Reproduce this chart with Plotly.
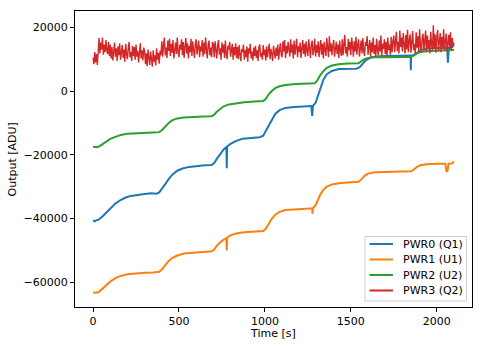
import plotly.graph_objects as go

# ---------------- data ----------------
pwr0_t = [0, 10, 20, 30, 50, 75, 100, 130, 160, 190, 220, 260, 300, 340, 370, 385, 400, 420, 440, 460,
          490, 520, 560, 600, 650, 690, 705, 720, 740, 760, 776, 778, 780, 800, 830, 870, 920, 970, 990,
          1005, 1020, 1040, 1060, 1085, 1120, 1170, 1220, 1270, 1275, 1280, 1295, 1310, 1325, 1340, 1360,
          1390, 1430, 1480, 1530, 1550, 1570, 1590, 1620, 1660, 1720, 1800, 1848, 1849, 1851, 1870, 1890,
          1910, 1950, 2000, 2040, 2060, 2065, 2070, 2090, 2100]
pwr0_v = [-40600, -40900, -40500, -40400, -39600, -38200, -36800, -35300, -34200, -33400, -32900, -32500,
          -32300, -32100, -32200, -31800, -30800, -29200, -27600, -26300, -25000, -24300, -23800, -23500,
          -23300, -23200, -22600, -21300, -19600, -18300, -17600, -24200, -17400, -16600, -15700, -15000,
          -14700, -14500, -14000, -12500, -10800, -8800, -7200, -6000, -5300, -5000, -4800, -4700, -7800,
          -4600, -3700, -1500, 1200, 3500, 5300, 6300, 6900, 7000, 7000, 7400, 8600, 9800, 10600, 10900,
          11000, 11100, 11100, 6500, 11100, 11400, 12300, 12900, 13300, 13400, 13500, 13600, 8900, 13500,
          13800, 14600]

pwr1_t = [0, 20, 35, 50, 75, 100, 130, 160, 200, 250, 300, 350, 385, 400, 420, 440, 460, 490, 530, 580,
          640, 690, 705, 720, 740, 760, 776, 778, 780, 800, 830, 880, 940, 990, 1005, 1020, 1040, 1060,
          1085, 1120, 1180, 1240, 1275, 1277, 1280, 1295, 1310, 1325, 1340, 1360, 1390, 1430, 1480, 1545,
          1560, 1580, 1600, 1640, 1700, 1780, 1850, 1865, 1885, 1905, 1940, 2000, 2050, 2055, 2062, 2068,
          2090, 2100]
pwr1_v = [-63200, -63300, -63000, -62200, -60900, -59800, -58700, -58000, -57500, -57200, -57000, -56900,
          -56700, -56000, -54600, -53300, -52400, -51600, -51000, -50700, -50500, -50300, -49700, -48600,
          -47400, -46600, -46200, -50000, -46000, -45300, -44700, -44300, -44100, -43900, -43200, -41800,
          -40100, -38800, -37900, -37300, -37000, -36900, -36800, -38500, -36700, -35800, -34000, -32200,
          -31000, -30000, -29300, -28900, -28700, -28500, -27800, -26600, -25900, -25500, -25400, -25300,
          -25200, -24700, -23800, -23300, -23000, -22800, -22800, -25000, -25300, -22800, -22700, -22100]

pwr2_t = [0, 20, 35, 50, 75, 100, 130, 160, 200, 250, 300, 350, 385, 400, 420, 440, 460, 490, 530, 580,
          640, 690, 705, 720, 740, 760, 790, 830, 880, 940, 990, 1005, 1020, 1040, 1060, 1085, 1120, 1180,
          1240, 1290, 1305, 1320, 1340, 1360, 1390, 1430, 1480, 1545, 1560, 1580, 1600, 1640, 1700, 1780,
          1850, 1865, 1885, 1905, 1940, 2000, 2060, 2100]
pwr2_v = [-17500, -17600, -17400, -16800, -15800, -15000, -14400, -13800, -13400, -13200, -13100, -13000,
          -12900, -12300, -11200, -10000, -9200, -8600, -8300, -8100, -8000, -7900, -7400, -6500, -5500,
          -4800, -4200, -3800, -3500, -3300, -3100, -2500, -1200, 0, 900, 1500, 1900, 2200, 2300, 2400,
          3300, 4800, 6200, 7300, 8000, 8400, 8600, 8700, 9300, 10000, 10400, 10600, 10600, 10700, 10700,
          11100, 11800, 12200, 12500, 12600, 12700, 12900]

# PWR3 is sampled every 5 s (noisy signal)
pwr3_step = 5
pwr3_v = [
    # 0-25 s
    10500, 8400, 12200, 9000, 11600, 8200,
    # 30-95 s
    12400, 16600, 11800, 15200, 13000, 16800, 11400, 14600, 12200, 16000, 12800, 11600, 15400, 11000,
    # 100-295 s
    14600, 10200, 13800, 9600, 12400, 15200, 10800, 13400, 9400, 14000,
    11200, 15000, 9800, 12800, 14400, 10400, 13000, 9200, 14800, 11600,
    10000, 13600, 15400, 10600, 12200, 9400, 14200, 11000, 13800, 9800,
    14600, 10800, 12600, 9000, 13400, 15000, 10200, 12800, 9600, 13600,
    # 300-395 s
    12600, 8400, 11800, 7800, 13000, 9600, 8200, 12400, 10400, 7600,
    12800, 9200, 11200, 8000, 13400, 9800, 12000, 8600, 12600, 11200,
    # 400-695 s
    15600, 10800, 14400, 16800, 11200, 13600, 10400, 15800, 12600, 16400,
    11000, 14800, 12000, 16000, 10200, 13400, 15200, 11600, 16800, 12400,
    10600, 14600, 13000, 16200, 11200, 15400, 10400, 13800, 16600, 11800,
    15000, 10200, 14200, 12200, 16400, 11000, 15600, 12800, 10400, 14800,
    16200, 11400, 13200, 15800, 10600, 14000, 12400, 16000, 10800, 15200,
    11600, 16800, 12800, 10200, 14600, 15800, 11200, 13600, 10600, 15400,
    # 700-835 s
    14800, 10600, 15600, 12200, 10200, 14400, 16000, 11400, 13400, 9800,
    15200, 12000, 14600, 10400, 15800, 11600, 10000, 14200, 13000, 15400,
    10800, 12600, 14800, 9800, 13800, 11200, 15000, 10400,
    # 840-1095 s
    13800, 10000, 14400, 11400, 9400, 13200, 12200, 14600, 9800, 12800,
    10600, 14000, 9200, 13400, 11800, 14800, 10200, 12400, 9600, 13600,
    11000, 14200, 10400, 12800, 9400, 13800, 14600, 10800, 12000, 9800,
    14400, 11200, 13000, 9600, 14000, 10600, 12600, 14800, 10000, 13200,
    11600, 9400, 14200, 12400, 10200, 13600, 11000, 14600, 9800, 12800,
    15000, 11400,
    # 1100-1445 s
    10600, 15600, 12400, 16000, 10400, 14200, 11800, 15400, 13000, 10800,
    16200, 12000, 14600, 10200, 15800, 11400, 13600, 16400, 10600, 14000,
    12200, 15200, 10400, 13800, 16000, 11600, 14800, 10800, 15600, 12600,
    11000, 16200, 13400, 10400, 14600, 15800, 11200, 13000, 16400, 10800,
    14400, 12000, 15600, 10600, 13600, 16000, 11400, 14800, 10200, 15400,
    12800, 11000, 16600, 13200, 10600, 17200, 12400, 15000, 11200, 14200,
    16000, 10800, 13800, 15400, 11600, 14600, 10400, 15800, 12600, 11000,
    # 1450-1745 s
    16200, 11200, 14800, 17600, 11800, 13800, 10800, 16400, 12800, 15400,
    11200, 16800, 14000, 10800, 15600, 12400, 17000, 11400, 14600, 16200,
    10800, 13400, 15800, 11800, 16600, 12600, 11000, 15400, 14200, 17200,
    11400, 13600, 16000, 10800, 15200, 12200, 16800, 11600, 14400, 10600,
    16400, 13000, 11200, 15800, 12400, 17400, 11000, 14800, 13200, 16200,
    11600, 15400, 10800, 16800, 12800, 14600, 11400, 17000, 12200, 15600,
    # 1750-2100 s
    17400, 12200, 16000, 18600, 12600, 15400, 11800, 19000, 13800, 16800,
    12400, 18200, 14600, 11800, 17600, 13000, 19200, 12200, 15800, 17800,
    12000, 16400, 18800, 12800, 14800, 11800, 18400, 13600, 17200, 12400,
    19400, 14200, 12000, 16600, 18000, 12600, 15200, 19000, 12200, 17400,
    13400, 16000, 11800, 18600, 14400, 12800, 20600, 13200, 17800, 12000,
    16800, 19200, 12600, 15600, 18200, 12200, 17000, 13800, 19400, 12800,
    16200, 18000, 12400, 15800, 17600, 13000, 18400, 12800, 16600, 14200,
    15200,
]
pwr3_t = [i * pwr3_step for i in range(len(pwr3_v))]

names = ["PWR0 (Q1)", "PWR1 (U1)", "PWR2 (U2)", "PWR3 (Q2)"]
colors = ["#1f77b4", "#ff7f0e", "#2ca02c", "#d62728"]

x_ticks = [0, 500, 1000, 1500, 2000]
y_ticks = [-60000, -40000, -20000, 0, 20000]
y_tick_text = ["\u221260000", "\u221240000", "\u221220000", "0", "20000"]
x_title = "Time [s]"
y_title = "Output [ADU]"

# ---------------- figure ----------------
font = "DejaVu Sans"
fs = 11
fig = go.Figure()
series = [(pwr0_t, pwr0_v, 2.0), (pwr1_t, pwr1_v, 2.0), (pwr2_t, pwr2_v, 2.0), (pwr3_t, pwr3_v, 1.4)]
for (t, v, w), n, c in zip(series, names, colors):
    fig.add_trace(go.Scatter(x=t, y=v, mode="lines", name=n,
                             line=dict(color=c, width=w), showlegend=False))

axis_common = dict(showline=True, linecolor="black", linewidth=1, mirror=True,
                   ticks="outside", ticklen=4, tickcolor="black", tickwidth=1,
                   showgrid=False, zeroline=False, automargin=False,
                   tickfont=dict(family=font, size=fs, color="black"))
fig.update_xaxes(range=[-105, 2205], tickvals=x_ticks, **axis_common)
fig.update_yaxes(range=[-67750, 25100], tickvals=y_ticks, ticktext=y_tick_text, **axis_common)

# ---- pixel helpers (plot area) ----
L, R, T, B = 75, 472, 11, 307
def px(x):
    return (x - L) / (R - L)
def py(y):
    return (B - y) / (B - T)

annotations = [
    dict(xref="paper", yref="paper", x=px(273), y=py(333), text=x_title, showarrow=False,
         xanchor="center", yanchor="middle", font=dict(family=font, size=fs, color="black")),
    dict(xref="paper", yref="paper", x=px(12), y=py(159.5), text=y_title, showarrow=False,
         textangle=-90, xanchor="center", yanchor="middle", font=dict(family=font, size=fs, color="black")),
]

# ---- legend box drawn in the matplotlib style ----
shapes = [dict(type="rect", xref="paper", yref="paper",
               x0=px(365), x1=px(466.5), y0=py(301), y1=py(236.5),
               line=dict(color="#cccccc", width=1), fillcolor="rgba(255,255,255,0.8)", layer="above")]
row_y = [244, 259.5, 275, 290.5]
for n, c, ry in zip(names, colors, row_y):
    shapes.append(dict(type="line", xref="paper", yref="paper",
                       x0=px(369.5), x1=px(393), y0=py(ry), y1=py(ry),
                       line=dict(color=c, width=2), layer="above"))
    annotations.append(dict(xref="paper", yref="paper", x=px(401), y=py(ry),
                            xanchor="left", yanchor="middle", text=n, showarrow=False,
                            font=dict(family=font, size=fs, color="black")))

fig.update_layout(
    width=483, height=347,
    margin=dict(l=L, r=483 - R, t=T, b=347 - B, autoexpand=False),
    paper_bgcolor="white", plot_bgcolor="white",
    font=dict(family=font, size=fs, color="black"),
    showlegend=False,
    shapes=shapes, annotations=annotations,
)

fig.write_html("out.html")
